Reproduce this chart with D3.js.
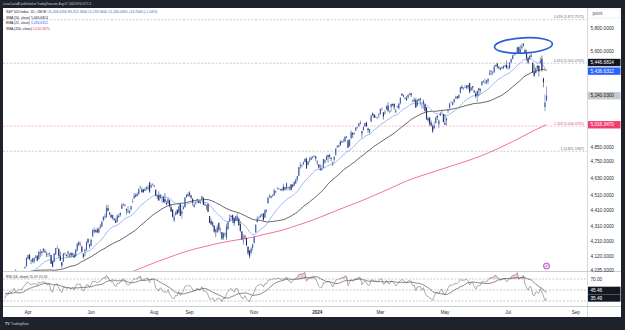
<!DOCTYPE html>
<html><head><meta charset="utf-8">
<script src="https://cdn.jsdelivr.net/npm/d3@7"></script>
<style>html,body{margin:0;padding:0;background:#1e222d;overflow:hidden}svg{display:block}</style>
</head><body><svg id="c" width="625" height="330"></svg>
<script>
// ---------------- DATA ----------------
const firstDate = "2023-03-13";
const holidays = ["2023-04-07","2023-05-29","2023-06-19","2023-07-04","2023-09-04","2023-11-23","2023-12-25",
  "2024-01-01","2024-01-15","2024-02-19","2024-03-29","2024-05-27","2024-06-19","2024-07-04","2024-09-02"];
// closes before the visible window (Dec 29 2022 - Mar 10 2023), used by the indicators
const priorCloses = [3849,3840,
  3824,3853,3808,3895,3892,3919,3970,3983,3999,3991,3929,3899,3973,4020,4017,4016,4060,4071,4018,4077,
  4119,4180,4136,4111,4164,4118,4082,4090,4137,4136,4148,4090,4079,3997,3991,4012,3970,3982,3970,
  3951,3981,4046,4048,3986,3992,3918,3862];
const opens = [
  3835,3876,3876,3878,3959,3918,3975,4002,3960,3940,3983,3975,3999,4047,4056,
  4103,4128,4094,4082,4086,4111,4122,4100,4140,4137,4164,4140,4131,4132,4132,4126,4088,4083,4129,
  4167,4165,4122,4082,4084,4136,4125,4144,4133,4138,4127,4127,4122,4156,4204,4191,4177,4133,4155,4156,4226,4191,
  4184,4242,4283,4271,4285,4268,4305,4305,4345,4367,4366,4427,4397,4381,4356,4354,4345,4338,4368,4380,4422,
  4450,4449,4422,4404,4394,4416,4467,4492,4514,4508,4522,4563,4554,4551,4543,4556,4558,4599,4565,4585,
  4578,4551,4505,4514,4492,4499,4502,4487,4450,4459,4479,4433,4416,4345,4381,4416,4397,4455,4389,4421,4433,4500,4517,
  4530,4511,4490,4434,4452,4481,4474,4462,4488,4497,4445,4445,4452,4374,4341,4310,4313,4282,4269,4328,
  4284,4270,4233,4260,4234,4289,4340,4367,4380,4361,4342,4346,4357,4322,4274,4211,4236,4233,4176,4153,4140,4171,
  4201,4268,4334,4365,4366,4384,4391,4364,4406,4458,4505,4497,4510,4511,4539,4553,4555,4554,4546,4571,4549,
  4560,4564,4558,4586,4568,4577,4593,4619,4646,4721,4715,4726,4744,4765,4725,4760,4759,4773,4786,4782,
  4746,4725,4697,4691,4703,4741,4759,4792,4791,4772,4740,4760,4797,4854,4856,4888,4886,4888,4892,4926,4900,
  4861,4917,4957,4951,4973,4995,5004,5027,4968,4976,5004,5032,4989,4963,5039,5101,5093,5074,5067,5086,
  5098,5131,5110,5108,5132,5164,5112,5151,5174,5176,5123,5154,5140,5181,5254,5243,5219,5219,5226,5248,
  5258,5204,5194,5205,5159,5211,5218,5160,5172,5172,5150,5064,5068,5032,5005,4988,5029,5084,5019,5085,5115,5098,
  5030,5050,5123,5142,5188,5168,5190,5225,5234,5222,5263,5310,5303,5305,5298,5320,5341,5281,5316,5279,5260,5243,
  5297,5278,5324,5357,5343,5341,5353,5409,5441,5424,5431,5476,5499,5472,5459,5461,5460,5474,5488,
  5471,5461,5507,5537,5572,5584,5591,5635,5590,5638,5644,5610,5589,5544,5537,5565,5505,5428,5419,5477,5479,5505,
  5538,5377,5151,5206.42];
const highs = [
  3905,3938,3895,3965,3959,3957,4010,4039,4003,3972,3994,3980,4031,4056,4110,
  4128,4134,4100,4108,4110,4125,4124,4151,4163,4152,4169,4163,4148,4138,4142,4127,4089,4139,4170,
  4185,4165,4148,4083,4139,4142,4131,4154,4135,4144,4141,4136,4164,4198,4213,4210,4186,4133,4166,4213,4231,4193,
  4232,4290,4300,4288,4299,4298,4322,4340,4376,4391,4449,4448,4400,4391,4382,4366,4362,4384,4391,4399,4458,
  4457,4454,4423,4440,4412,4443,4489,4528,4527,4533,4563,4578,4565,4556,4567,4575,4583,4607,4594,4595,
  4584,4551,4519,4540,4520,4504,4502,4528,4477,4490,4480,4449,4421,4385,4407,4418,4444,4458,4419,4440,4501,4522,4532,
  4541,4516,4490,4457,4476,4490,4478,4479,4511,4497,4466,4449,4462,4376,4358,4338,4313,4292,4317,4333,
  4300,4270,4268,4268,4325,4341,4386,4380,4386,4366,4378,4393,4365,4339,4276,4255,4255,4234,4183,4157,4177,4194,
  4245,4320,4374,4372,4386,4391,4393,4418,4421,4504,4521,4511,4521,4557,4542,4569,4560,4555,4562,4588,4570,
  4599,4570,4575,4590,4591,4610,4623,4644,4709,4739,4726,4749,4768,4778,4749,4778,4785,4785,4793,4788,
  4755,4729,4727,4721,4764,4765,4791,4798,4803,4782,4744,4784,4842,4866,4867,4903,4899,4912,4929,4932,4907,
  4907,4975,4957,4964,4999,5001,5030,5048,4970,5003,5032,5039,4994,4984,5089,5111,5098,5087,5075,5105,
  5140,5149,5114,5128,5165,5190,5125,5179,5179,5180,5136,5162,5180,5226,5261,5247,5229,5235,5249,5264,
  5264,5209,5228,5222,5216,5216,5224,5178,5211,5175,5150,5076,5077,5049,5019,5039,5076,5089,5057,5114,5124,5099,
  5096,5073,5140,5182,5200,5191,5215,5240,5237,5250,5311,5325,5305,5325,5324,5329,5342,5311,5316,5283,5270,5281,
  5302,5298,5354,5362,5376,5366,5376,5448,5441,5432,5488,5490,5505,5478,5468,5473,5483,5490,5524,
  5480,5510,5539,5571,5583,5590,5636,5642,5655,5666,5670,5622,5614,5555,5568,5585,5509,5491,5467,5487,5487,5552,
  5566,5383,5250,5312.34];
const lows = [
  3809,3875,3839,3874,3901,3917,3970,3936,3922,3901,3970,3951,3999,4039,4056,
  4099,4096,4070,4078,4073,4107,4086,4100,4114,4123,4142,4140,4114,4114,4117,4072,4050,4083,4127,
  4164,4109,4089,4048,4084,4123,4117,4110,4109,4111,4113,4110,4114,4147,4180,4180,4146,4103,4118,4153,4193,4166,
  4181,4241,4262,4264,4264,4262,4292,4305,4345,4351,4363,4405,4379,4360,4351,4341,4329,4336,4363,4370,4422,
  4442,4437,4385,4398,4389,4413,4464,4487,4499,4505,4514,4557,4528,4528,4541,4547,4547,4528,4564,4578,
  4567,4506,4486,4475,4492,4463,4462,4458,4447,4453,4432,4403,4365,4335,4377,4386,4396,4375,4356,4417,4431,4496,4504,
  4502,4486,4443,4431,4452,4467,4462,4453,4478,4447,4442,4416,4401,4329,4316,4303,4265,4238,4265,4274,
  4260,4221,4220,4242,4220,4284,4339,4346,4328,4311,4342,4338,4311,4269,4223,4190,4225,4181,4126,4104,4131,4153,
  4198,4268,4334,4354,4364,4370,4347,4364,4396,4458,4496,4489,4500,4511,4525,4553,4552,4545,4540,4540,4545,
  4547,4546,4546,4547,4566,4575,4590,4608,4643,4695,4704,4725,4743,4697,4720,4741,4759,4769,4780,4751,
  4722,4699,4683,4682,4703,4731,4757,4739,4769,4747,4715,4741,4785,4845,4848,4859,4882,4886,4888,4917,4846,
  4853,4907,4918,4939,4970,4987,5001,5021,4920,4972,5002,5000,4955,4946,5038,5082,5068,5067,5058,5066,
  5094,5127,5057,5093,5132,5114,5105,5115,5160,5131,5105,5149,5131,5171,5240,5229,5216,5203,5214,5246,
  5229,5185,5190,5146,5157,5197,5166,5139,5139,5116,5053,5039,5008,5001,4954,4987,5027,5053,4990,5084,5101,5035,
  5013,5012,5105,5142,5185,5163,5180,5215,5211,5218,5256,5296,5283,5299,5297,5290,5258,5279,5282,5262,5222,5191,
  5235,5257,5320,5345,5331,5331,5331,5401,5404,5403,5420,5472,5455,5452,5447,5453,5452,5468,5459,
  5446,5452,5507,5532,5562,5574,5591,5585,5583,5615,5639,5587,5522,5497,5534,5550,5427,5391,5419,5444,5392,5505,
  5431,5306,5119,5193.56];
const closes = [
  3856,3919,3892,3960,3917,3952,4003,3937,3949,3971,3978,3971,4028,4051,4109,
  4125,4101,4090,4105,4109,4109,4092,4146,4138,4151,4155,4155,4130,4134,4137,4072,4056,4135,4169,
  4168,4120,4091,4061,4136,4138,4119,4138,4131,4124,4136,4110,4159,4198,4192,4193,4146,4115,4151,4205,4206,4180,
  4221,4282,4274,4284,4268,4294,4299,4339,4369,4373,4426,4410,4389,4366,4382,4348,4329,4378,4377,4396,4450,
  4456,4447,4412,4399,4410,4439,4472,4510,4505,4523,4555,4566,4535,4536,4555,4567,4567,4537,4582,4589,
  4577,4513,4502,4478,4518,4499,4468,4469,4464,4490,4438,4404,4370,4370,4400,4388,4436,4376,4406,4433,4498,4515,4508,
  4516,4497,4465,4451,4457,4487,4462,4467,4505,4450,4454,4444,4402,4330,4320,4337,4274,4275,4300,4288,
  4288,4229,4264,4258,4308,4336,4358,4377,4350,4328,4374,4373,4315,4278,4224,4217,4248,4187,4137,4117,4167,4194,
  4238,4318,4358,4366,4378,4383,4347,4415,4412,4496,4503,4508,4514,4547,4538,4557,4559,4550,4555,4551,4568,
  4595,4570,4567,4549,4586,4604,4622,4644,4707,4720,4719,4741,4768,4698,4747,4755,4775,4782,4783,4770,
  4743,4705,4689,4697,4764,4757,4783,4780,4784,4766,4739,4781,4840,4850,4865,4869,4894,4891,4928,4925,4846,
  4906,4959,4943,4954,4995,4998,5027,5022,4953,5001,5030,5006,4976,4982,5087,5089,5070,5078,5070,5096,
  5137,5131,5079,5105,5157,5124,5118,5175,5165,5150,5117,5149,5179,5225,5242,5234,5218,5204,5248,5254,
  5244,5206,5211,5147,5204,5202,5210,5161,5199,5123,5062,5051,5022,5011,4967,5011,5071,5072,5048,5100,5116,5036,
  5018,5064,5128,5181,5188,5188,5214,5223,5221,5247,5308,5297,5303,5308,5321,5307,5268,5305,5306,5267,5235,5278,
  5283,5291,5354,5353,5347,5361,5375,5421,5434,5432,5473,5487,5473,5465,5448,5469,5478,5483,5460,
  5475,5509,5537,5567,5573,5577,5634,5585,5615,5631,5667,5588,5545,5505,5564,5556,5427,5399,5459,5464,5436,5522,
  5446.68,5346.56,5186.33,5240.03];
// 200-day SMA read every 10 bars, plus its last value
const sma200Every10 = [3939,3936,3942,3953,3961,3966,3976,3991,4015,4052,4089,4123,4155,4179,4202,4219,4236,4259,
  4282,4314,4348,4388,4429,4468,4512,4558,4606,4645,4680,4715,4750,4790,4838,4891,4950,5007];
const sma50Last = 5446.6814, ema21Last = 5436.6312, sma200Last = 5016.3470;
const rsiLast = 35.49, rsiMaLast = 45.46;
const priceTicks = [5800,5600,5400,5200,5000,4850,4750,4630,4510,4410,4310,4210,4120,4035];
const rsiTicks = [70,30];
const tickMonths = ["2023-04","2023-06","2023-08","2023-09","2023-11","2024-01","2024-03","2024-05","2024-07","2024-09"];
const tickLabels = ["Apr","Jun","Aug","Sep","Nov","2024","Mar","May","Jul","Sep"];
const fibRatios = ["1.618","1.414","1.118","1"];
const fibValues = [5872.7575,5501.0742,5006.4195,4821.1987];
const circleNote = {date:"2024-07-16", price:5650};

// ---------------- HELPERS ----------------
function tradingDays(start, end, hol){
  const out=[]; const d=new Date(start+"T12:00:00Z"); const e=new Date(end+"T12:00:00Z");
  while(d<=e){const wd=d.getUTCDay(); const s=d.toISOString().slice(0,10);
    if(wd!==0&&wd!==6&&!hol.includes(s)) out.push(s); d.setUTCDate(d.getUTCDate()+1);}
  return out;
}
const days = tradingDays(firstDate,"2024-10-31",holidays);
const N = closes.length;
const P = priorCloses.length;
const all = priorCloses.concat(closes);

// indicators
const ema21 = new Array(all.length).fill(null);
{ let s=0; for(let i=0;i<21;i++) s+=all[i]; ema21[20]=s/21; const k=2/22;
  for(let i=21;i<all.length;i++) ema21[i]=all[i]*k+ema21[i-1]*(1-k); }
const sma50 = all.map((v,i)=> i<49?null:d3.mean(all.slice(i-49,i+1)));
const rsi = new Array(all.length).fill(null);
{ let g=0,l=0; for(let i=1;i<=14;i++){const c=all[i]-all[i-1]; if(c>0)g+=c; else l-=c;} g/=14; l/=14;
  rsi[14]=100-100/(1+g/l);
  for(let i=15;i<all.length;i++){const c=all[i]-all[i-1]; g=(g*13+Math.max(c,0))/14; l=(l*13+Math.max(-c,0))/14;
    rsi[i]= l===0?100:100-100/(1+g/l);} }
const rsiMa = rsi.map((v,i)=> (i<27)?null:d3.mean(rsi.slice(i-13,i+1)));

// ---------------- SCALES ----------------
const PL=3, PR=587, PT=8, PB=271, RT=272, RB=306;
const x = d3.scaleLinear().domain([-1.25,378.3]).range([PL,PR]);
const y = d3.scaleLog().domain([4120,5800]).range([256,28]);
const ry = d3.scaleLinear().domain([30,70]).range([301,279]);
const FONT = "'Liberation Sans', Arial, sans-serif";

const svg = d3.select("#c").attr("font-family",FONT);
svg.append("rect").attr("width",625).attr("height",330).attr("fill","#1e222d");
svg.append("rect").attr("x",3).attr("y",8).attr("width",618).attr("height",309).attr("fill","#ffffff");
const defs = svg.append("defs");
defs.append("clipPath").attr("id","cm").append("rect").attr("x",PL).attr("y",PT).attr("width",PR-PL).attr("height",PB-PT);
defs.append("clipPath").attr("id","cr").append("rect").attr("x",PL).attr("y",RT).attr("width",PR-PL).attr("height",RB-RT);

// separators
svg.append("line").attr("x1",PR+0.5).attr("x2",PR+0.5).attr("y1",8).attr("y2",317).attr("stroke","#d6d8de").attr("stroke-width",1);
svg.append("line").attr("x1",3).attr("x2",621).attr("y1",271.5).attr("y2",271.5).attr("stroke","#c9ccd3").attr("stroke-width",1);
svg.append("line").attr("x1",3).attr("x2",621).attr("y1",306.5).attr("y2",306.5).attr("stroke","#c9ccd3").attr("stroke-width",1);

const main = svg.append("g").attr("clip-path","url(#cm)");

// fib levels
fibValues.forEach((v,k)=>{
  const col = fibRatios[k]==="1.118" ? "#f48fb1" : "#a3a6af";
  main.append("line").attr("x1",PL).attr("x2",PR).attr("y1",y(v)).attr("y2",y(v))
    .attr("stroke",col).attr("stroke-width",0.6).attr("stroke-dasharray","2,1.6");
  main.append("text").attr("x",584).attr("y",y(v)-1.4).attr("text-anchor","end").attr("font-size",3.6)
    .attr("fill", fibRatios[k]==="1.118" ? "#e0557f" : "#6b6e78")
    .text(`${fibRatios[k]} (${d3.format(",.4f")(v)})`);
});

// moving averages
const lineGen = d3.line().defined(d=>d[1]!=null).x(d=>x(d[0])).y(d=>y(d[1]));
const s200pts = sma200Every10.map((v,k)=>[k*10,v]).concat([[N-1,sma200Last]]);
main.append("path").attr("d",d3.line().x(d=>x(d[0])).y(d=>y(d[1])).curve(d3.curveMonotoneX)(s200pts))
  .attr("fill","none").attr("stroke","#f06292").attr("stroke-width",0.9);
main.append("path").attr("d",lineGen(closes.map((c,i)=>[i,sma50[i+P]])))
  .attr("fill","none").attr("stroke","#3a3a3a").attr("stroke-width",0.8);
main.append("path").attr("d",lineGen(closes.map((c,i)=>[i,ema21[i+P]])))
  .attr("fill","none").attr("stroke","#86a6f2").attr("stroke-width",0.8);

// candles
const cg = main.append("g");
closes.forEach((c,i)=>{
  const o=opens[i], up=c>=o, col= up? "#3e5cae" : "#1d2d66";
  const hi=Math.max(highs[i],o,c), lo=Math.min(lows[i],o,c);
  cg.append("line").attr("x1",x(i)).attr("x2",x(i)).attr("y1",y(hi)).attr("y2",y(lo)).attr("stroke",col).attr("stroke-width",0.55);
  const t=y(Math.max(o,c)), b=y(Math.min(o,c));
  cg.append("rect").attr("x",x(i)-0.55).attr("y",t).attr("width",1.1).attr("height",Math.max(0.5,b-t)).attr("fill",col);
});

// hand-drawn circle annotation
const ci = days.indexOf(circleNote.date);
main.append("ellipse").attr("cx",x(ci)).attr("cy",y(circleNote.price)).attr("rx",29).attr("ry",7.6)
  .attr("transform",`rotate(-3 ${x(ci)} ${y(circleNote.price)})`)
  .attr("fill","none").attr("stroke","#2c5fd6").attr("stroke-width",1.7);

// event marker
const ex = x(N-1);
svg.append("circle").attr("cx",ex).attr("cy",266).attr("r",3).attr("fill","#f3e5f5").attr("stroke","#9c27b0").attr("stroke-width",0.8);
svg.append("line").attr("x1",ex-1.2).attr("x2",ex+1.2).attr("y1",267.2).attr("y2",264.8).attr("stroke","#9c27b0").attr("stroke-width",0.7);

// RSI pane
const rg = svg.append("g").attr("clip-path","url(#cr)");
[70,50,30].forEach(v=>rg.append("line").attr("x1",PL).attr("x2",PR).attr("y1",ry(v)).attr("y2",ry(v))
  .attr("stroke","#8e919a").attr("stroke-width",0.5).attr("stroke-dasharray","2,1.5"));
const rsiPts = closes.map((c,i)=>[i,rsi[i+P]]);
rg.append("path").attr("d",d3.area().x(d=>x(d[0])).y0(ry(70)).y1(d=>ry(Math.max(70,d[1])))(rsiPts))
  .attr("fill","#f8bbd0").attr("opacity",0.8);
rg.append("path").attr("d",d3.line().x(d=>x(d[0])).y(d=>ry(d[1]))(closes.map((c,i)=>[i,rsiMa[i+P]])))
  .attr("fill","none").attr("stroke","#2b2b2b").attr("stroke-width",0.55);
rg.append("path").attr("d",d3.line().x(d=>x(d[0])).y(d=>ry(d[1]))(rsiPts))
  .attr("fill","none").attr("stroke","#5a5a5a").attr("stroke-width",0.5);

// value box positions (needed to keep axis labels clear of them)
const yEma = y(ema21Last);
const priceBoxes = [
  [yEma-8.6, d3.format(",.4f")(sma50Last), "#131722", "#ffffff"],
  [yEma, d3.format(",.4f")(ema21Last), "#2962ff", "#ffffff"],
  [y(closes[N-1]), d3.format(",.4f")(closes[N-1]), "#c7c9ce", "#131722"],
  [y(sma200Last), d3.format(",.4f")(sma200Last), "#f23e6d", "#ffffff"]];
const yR2 = ry(rsiLast), yR1 = Math.min(ry(rsiMaLast), yR2-7.6);
const rsiBoxes = [[yR1, d3.format(".2f")(rsiMaLast), "#131722", "#ffffff"],[yR2, d3.format(".2f")(rsiLast), "#131722", "#ffffff"]];
const clear = (yy, boxes)=> boxes.every(b=>Math.abs(b[0]-yy)>7.6);

// price axis labels
priceTicks.forEach(v=>{
  if(!clear(y(v),priceBoxes)) return;
  svg.append("text").attr("x",590.5).attr("y",y(v)+1.7).attr("font-size",4.7).attr("fill","#2a2e39").text(d3.format(",.4f")(v));
});
rsiTicks.forEach(v=>{
  if(!clear(ry(v),rsiBoxes)) return;
  svg.append("text").attr("x",590.5).attr("y",ry(v)+1.7).attr("font-size",4.7).attr("fill","#2a2e39").text(d3.format(".2f")(v));
});
// top "point" box
svg.append("rect").attr("x",588).attr("y",9).attr("width",32).attr("height",9).attr("fill","#fff").attr("stroke","#e0e3eb").attr("stroke-width",0.6);
svg.append("text").attr("x",592.5).attr("y",15.3).attr("font-size",4.6).attr("fill","#50535e").text("point");

function vbox(b){
  const [yc, txt, bg, fg] = b;
  svg.append("rect").attr("x",588).attr("y",yc-3.7).attr("width",32.5).attr("height",7.4).attr("fill",bg);
  svg.append("text").attr("x",590.5).attr("y",yc+1.7).attr("font-size",4.7).attr("fill",fg).text(txt);
}
priceBoxes.forEach(vbox);
rsiBoxes.forEach(vbox);

// time axis
tickMonths.forEach((m,k)=>{
  const i = days.findIndex(d=>d.startsWith(m));
  svg.append("text").attr("x",x(i)).attr("y",313.6).attr("text-anchor","middle").attr("font-size",4.6)
    .attr("font-weight", tickLabels[k]==="2024"?"bold":"normal").attr("fill","#2a2e39").text(tickLabels[k]);
});

// legend
const f4 = d3.format(",.4f"), L = N-1, chg = closes[L]-closes[L-1];
const l1 = svg.append("text").attr("x",6).attr("y",13.3).attr("font-size",3.4);
l1.append("tspan").attr("fill","#131722").text("S&P 500 Index, 1D, CBOE  ");
l1.append("tspan").attr("fill","#2f5fd0").text(`O${f4(opens[L])}  H${f4(highs[L])}  L${f4(lows[L])}  C${f4(closes[L])}  ${d3.format("+.4f")(chg)} (${d3.format("+.2%")(chg/closes[L-1])})`);
[["SMA (50, close) ", sma50Last, "#131722"],["EMA (21, close) ", ema21Last, "#2962ff"],["SMA (200, close) ", sma200Last, "#f0306a"]]
.forEach((r,k)=>{
  const t = svg.append("text").attr("x",6).attr("y",18.8+k*5.4).attr("font-size",3.4);
  t.append("tspan").attr("fill","#131722").text(r[0]);
  t.append("tspan").attr("fill",r[2]).text(f4(r[1]));
});
const rl = svg.append("text").attr("x",6).attr("y",278).attr("font-size",3.4);
rl.append("tspan").attr("fill","#131722").text("RSI (14, close)  ");
rl.append("tspan").attr("fill","#555").text(`${d3.format(".2f")(rsiLast)}  ${d3.format(".2f")(rsiMaLast)}`);

// header / footer
svg.append("text").attr("x",3).attr("y",5.3).attr("font-size",2.7).attr("fill","#d1d4dc")
  .text("LucasCastaAT published on TradingView.com, Aug 07, 2024 09:50 UTC-3");
svg.append("text").attr("x",5).attr("y",325).attr("font-size",3.6).attr("font-weight","bold").attr("fill","#d1d4dc").text("TV");
svg.append("text").attr("x",11).attr("y",325).attr("font-size",3.2).attr("fill","#d1d4dc").text("TradingView");
</script></body></html>
